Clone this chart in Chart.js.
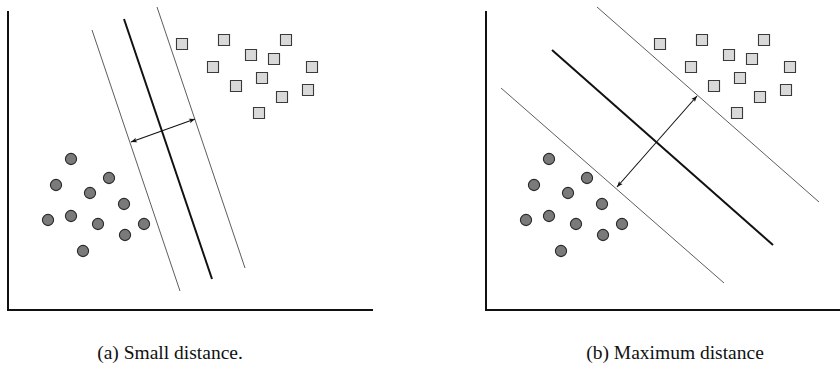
<!DOCTYPE html>
<html>
<head>
<meta charset="utf-8">
<script src="https://cdn.jsdelivr.net/npm/chart.js@4/dist/chart.umd.min.js"></script>
<style>
  html, body { margin: 0; padding: 0; background: #fff; }
  body { width: 840px; height: 381px; position: relative; overflow: hidden; }
  canvas { position: absolute; top: 0; }
  #panelA { left: 0; }
  #panelB { left: 478px; }
  .cap {
    position: absolute; top: 342px; line-height: 22px;
    font-family: "Liberation Serif", "DejaVu Serif", serif; font-size: 19.5px;
    color: #111; white-space: nowrap; transform: translateX(-50%);
  }
</style>
</head>
<body>
<canvas id="panelA" width="420" height="320"></canvas>
<canvas id="panelB" width="362" height="320"></canvas>
<div class="cap" style="left:170px">(a) Small distance.</div>
<div class="cap" style="left:675px">(b) Maximum distance</div>

<script>
// Class 1 (circles) and class 2 (squares), same points in both panels
const circlesX = [6.3, 4.8, 10.1, 8.2, 11.6, 4.0, 6.3, 9.0, 13.6, 11.7, 7.5];
const circlesY = [15.1, 12.5, 13.2, 11.7, 10.6, 9.0, 9.4, 8.6, 8.6, 7.5, 5.9];
const squaresX = [17.4, 21.6, 27.8, 24.3, 26.6, 20.5, 30.4, 25.4, 22.8, 30.0, 27.4, 25.1];
const squaresY = [26.6, 27.0, 27.0, 25.5, 25.1, 24.3, 24.3, 23.2, 22.4, 22.0, 21.3, 19.7];

// (a) small margin: separating line, its two margin lines, and the margin arrow
const aLowerX = [8.4, 17.2],  aLowerY = [28.0, 1.9];
const aSepX   = [11.6, 20.4], aSepY   = [29.1, 3.1];
const aUpperX = [14.9, 23.7], aUpperY = [30.3, 4.2];
const aArrowX = [12.3, 18.7], aArrowY = [16.8, 19.1];

// (b) maximum margin
const bUpperX = [11.1, 33.3], bUpperY = [30.3, 10.8];
const bSepX   = [6.6, 28.7],  bSepY   = [26.0, 6.5];
const bLowerX = [1.5, 23.8],  bLowerY = [22.2, 2.7];
const bArrowX = [13.1, 21.1], bArrowY = [12.3, 21.4];

const axisMaxY = 29.8;
const axisMaxXA = 36.4;
const axisMaxXB = 35.4;

function pts(xs, ys) { return xs.map((x, i) => ({ x: x, y: ys[i] })); }

function lineSet(xs, ys, width, color, arrows) {
  return {
    data: pts(xs, ys), showLine: true, pointRadius: 0, pointHoverRadius: 0,
    borderColor: color, borderWidth: width, backgroundColor: color,
    clip: false, arrowHeads: !!arrows, order: 2
  };
}

// Small filled arrowheads at both ends of flagged line datasets
const arrowPlugin = {
  id: 'arrowHeads',
  afterDatasetsDraw(chart) {
    const ctx = chart.ctx;
    chart.data.datasets.forEach((ds, i) => {
      if (!ds.arrowHeads) return;
      const p = chart.getDatasetMeta(i).data;
      const ends = [[p[0], p[1]], [p[1], p[0]]];
      ends.forEach(([tip, from]) => {
        const ang = Math.atan2(tip.y - from.y, tip.x - from.x);
        const len = 6, half = 2.4;
        ctx.save();
        ctx.translate(tip.x, tip.y);
        ctx.rotate(ang);
        ctx.beginPath();
        ctx.moveTo(0, 0);
        ctx.lineTo(-len, -half);
        ctx.lineTo(-len * 0.75, 0);
        ctx.lineTo(-len, half);
        ctx.closePath();
        ctx.fillStyle = ds.borderColor;
        ctx.fill();
        ctx.restore();
      });
    });
  }
};

function makePanel(id, maxX, lines, padRight) {
  const datasets = lines.concat([
    {
      data: pts(circlesX, circlesY), pointStyle: 'circle', pointRadius: 5.6,
      backgroundColor: '#7a7a7a', borderColor: '#2a2a2a', borderWidth: 1.1, order: 1
    },
    {
      data: pts(squaresX, squaresY), pointStyle: 'rect', pointRadius: 7.8,
      backgroundColor: '#d9d9d9', borderColor: '#3a3a3a', borderWidth: 1.1, order: 1
    }
  ]);
  const axis = (max) => ({
    type: 'linear', min: 0, max: max,
    ticks: { display: false }, grid: { display: false, drawTicks: false },
    border: { display: true, color: '#111', width: 2 }
  });
  const x = axis(maxX); x.afterFit = s => { s.height = 0; };
  const y = axis(axisMaxY); y.afterFit = s => { s.width = 0; };
  return new Chart(document.getElementById(id), {
    type: 'scatter',
    data: { datasets: datasets },
    options: {
      responsive: false, animation: false,
      layout: { autoPadding: false, padding: { left: 8, top: 12, right: padRight, bottom: 10 } },
      plugins: { legend: { display: false }, tooltip: { enabled: false } },
      scales: { x: x, y: y }
    },
    plugins: [arrowPlugin]
  });
}

makePanel('panelA', axisMaxXA, [
  lineSet(aLowerX, aLowerY, 0.8, '#333'),
  lineSet(aSepX, aSepY, 2, '#111'),
  lineSet(aUpperX, aUpperY, 0.8, '#333'),
  lineSet(aArrowX, aArrowY, 1.1, '#111', true)
], 48);

makePanel('panelB', axisMaxXB, [
  lineSet(bUpperX, bUpperY, 0.8, '#333'),
  lineSet(bSepX, bSepY, 2, '#111'),
  lineSet(bLowerX, bLowerY, 0.8, '#333'),
  lineSet(bArrowX, bArrowY, 1.1, '#111', true)
], 0);
</script>
</body>
</html>
